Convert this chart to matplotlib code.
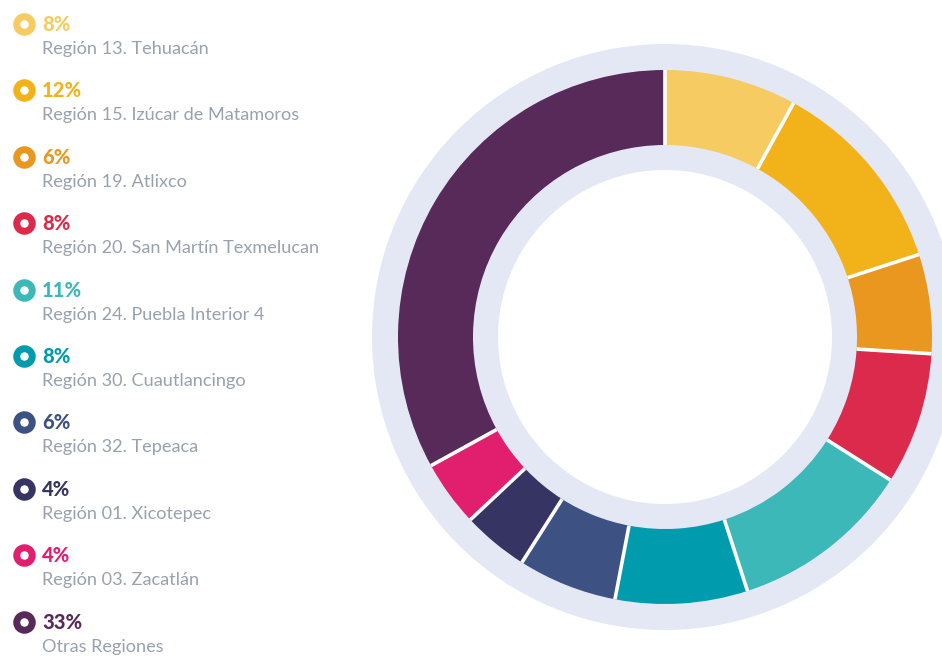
import numpy as np
import matplotlib
matplotlib.use("Agg")
import matplotlib.pyplot as plt
from matplotlib.patches import Circle, Wedge

plt.rcParams['font.family'] = ['Lato', 'DejaVu Sans']

# ---- data ----
regions = [
    "Región 13. Tehuacán",
    "Región 15. Izúcar de Matamoros",
    "Región 19. Atlixco",
    "Región 20. San Martín Texmelucan",
    "Región 24. Puebla Interior 4",
    "Región 30. Cuautlancingo",
    "Región 32. Tepeaca",
    "Región 01. Xicotepec",
    "Región 03. Zacatlán",
    "Otras Regiones",
]
percent = [8, 12, 6, 8, 11, 8, 6, 4, 4, 33]
colors = ["#F5CB62", "#F2B31A", "#E9971F", "#DB2A4B", "#3DB8B8",
          "#019BAE", "#3D5283", "#363462", "#E11F6E", "#572A5A"]

W, H = 942, 657
fig = plt.figure(figsize=(W / 100, H / 100), dpi=100)
fig.patch.set_facecolor("white")

# ---- donut ----
cx, cy = 665, 337
R_bg, R_out, R_in, R_white = 293, 267, 192, 167
axd = fig.add_axes([(cx - R_bg) / W, (H - cy - R_bg) / H, 2 * R_bg / W, 2 * R_bg / H])
axd.set_xlim(-R_bg, R_bg)
axd.set_ylim(-R_bg, R_bg)
axd.set_aspect("equal")
axd.axis("off")

axd.add_patch(Circle((0, 0), R_bg, facecolor="#E4E8F5", edgecolor="none", clip_on=False, zorder=1))
vals = np.array(percent, dtype=float)
frac = vals / vals.sum()
theta = 90.0
bounds = [theta]
for f, c in zip(frac, colors):
    t2 = theta - f * 360.0
    axd.add_patch(Wedge((0, 0), R_out, t2, theta, width=R_out - R_in,
                        facecolor=c, edgecolor="none", zorder=2))
    theta = t2
    bounds.append(theta)
for b in bounds[:-1]:
    a = np.deg2rad(b)
    axd.plot([R_in * np.cos(a), R_out * np.cos(a)], [R_in * np.sin(a), R_out * np.sin(a)],
             color="white", lw=2.6, solid_capstyle="butt", zorder=3)
axd.add_patch(Circle((0, 0), R_white, facecolor="white", edgecolor="none", zorder=4))

# ---- legend ----
axl = fig.add_axes([0, 0, 1, 1])
axl.set_xlim(0, W)
axl.set_ylim(H, 0)
axl.axis("off")
y0, dy = 24, 66.4
for i, (lab, p, c) in enumerate(zip(regions, percent, colors)):
    y = y0 + i * dy
    axl.plot([24], [y], marker="o", ms=11.2, mew=5.0, mfc="white", mec=c, ls="none")
    axl.text(42, y + 7, f"{p}%", color=c, fontsize=14.5, fontweight=900, va="baseline", ha="left")
    axl.text(42, y + 30, lab, color="#98A1AE", fontsize=13.1, va="baseline", ha="left")

fig.savefig("out.png", dpi=100, facecolor="white")
